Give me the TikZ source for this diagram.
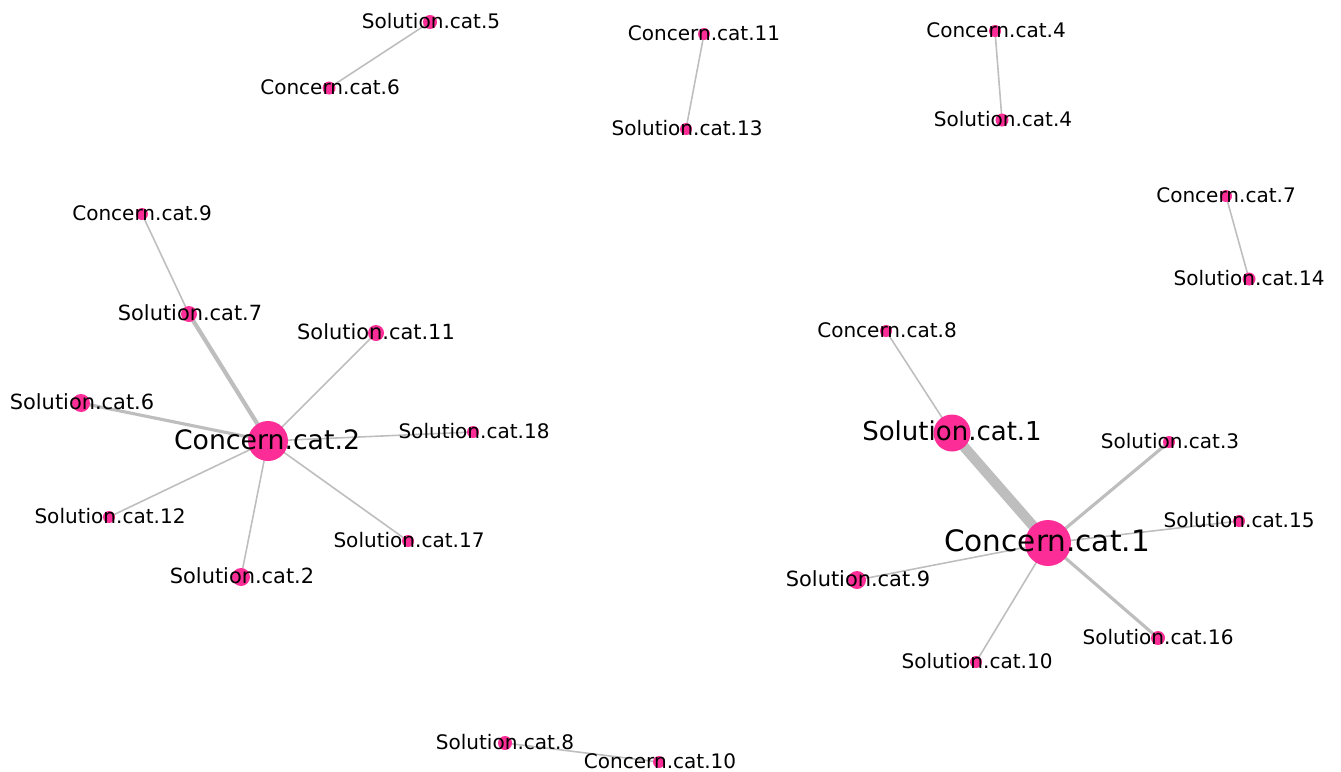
\documentclass[tikz,border=0pt]{standalone}
\usepackage{fontspec}
\setmainfont{DejaVu Sans}
\definecolor{dotpink}{RGB}{252,45,150}
\definecolor{edgegray}{RGB}{190,190,190}
\pgfdeclarelayer{bg}
\pgfsetlayers{bg,main}
\tikzset{
  dot/.style={circle,fill=dotpink,draw=none,inner sep=0pt,minimum size={#1*0.02cm}},
  dot/.default=12,
  lab/.style={inner sep=0pt,font=\fontsize{11.4}{13}\selectfont,text=black},
  mlab/.style={inner sep=0pt,font=\fontsize{11.9}{14}\selectfont,text=black},
  biglab/.style={inner sep=0pt,font=\fontsize{#1}{19}\selectfont,text=black},
  edge/.style={draw=edgegray,line width=0.9pt},
  medge/.style={draw=edgegray,line width=1.8pt},
  tedge/.style={draw=edgegray,line width=2.4pt},
  hedge/.style={draw=edgegray,line width=5.8pt},
}
\begin{document}
\begin{tikzpicture}[x=0.02cm,y=-0.02cm]
\useasboundingbox (0,0) rectangle (1341,771);
% dots
\node[dot=14] (s5) at (430,22) {};
\node[dot=13] (c6) at (329,88) {};
\node[dot=12] (c11) at (704,34) {};
\node[dot=12] (s13) at (686,129) {};
\node[dot=12] (c4) at (995,31) {};
\node[dot=13] (s4) at (1002,120) {};
\node[dot=12] (c7) at (1226,196) {};
\node[dot=13] (s14) at (1249,279) {};
\node[dot=12] (c9) at (142,214) {};
\node[dot=16] (s7) at (189,314) {};
\node[dot=16] (s11) at (376,333) {};
\node[dot=18] (s6) at (81,403) {};
\node[dot=40] (c2) at (268,441) {};
\node[dot=12] (s18) at (473,432) {};
\node[dot=12] (s12) at (109,517) {};
\node[dot=12] (s17) at (408,541) {};
\node[dot=18] (s2) at (241,577) {};
\node[dot=12] (c8) at (886,331) {};
\node[dot=37] (s1) at (952,433) {};
\node[dot=12] (s3) at (1169,442) {};
\node[dot=46] (c1) at (1048,543) {};
\node[dot=12] (s15) at (1239,521) {};
\node[dot=18] (s9) at (857,580) {};
\node[dot=14] (s16) at (1158,638) {};
\node[dot=12] (s10) at (976,662) {};
\node[dot=14] (s8) at (505,743) {};
\node[dot=12] (c10) at (659,762) {};
% edges
\begin{pgfonlayer}{bg}
\draw[edge] (s5.center) -- (c6.center);
\draw[edge] (c11.center) -- (s13.center);
\draw[edge] (c4.center) -- (s4.center);
\draw[edge] (c7.center) -- (s14.center);
\draw[edge] (c9.center) -- (s7.center);
\draw[tedge] (s7.center) -- (c2.center);
\draw[edge] (s11.center) -- (c2.center);
\draw[medge] (s6.center) -- (c2.center);
\draw[edge] (s18.center) -- (c2.center);
\draw[edge] (s12.center) -- (c2.center);
\draw[edge] (s17.center) -- (c2.center);
\draw[edge] (s2.center) -- (c2.center);
\draw[edge] (c8.center) -- (s1.center);
\draw[hedge] (s1.center) -- (c1.center);
\draw[medge] (s3.center) -- (c1.center);
\draw[edge] (s15.center) -- (c1.center);
\draw[edge] (s9.center) -- (c1.center);
\draw[medge] (s16.center) -- (c1.center);
\draw[edge] (s10.center) -- (c1.center);
\draw[edge] (s8.center) -- (c10.center);
\end{pgfonlayer}
% labels
\node[lab] (s5l) at (431,21) {Solution.cat.5};
\node[lab] (c6l) at (330,87) {Concern.cat.6};
\node[lab] (c11l) at (704,33) {Concern.cat.11};
\node[lab] (s13l) at (687,128) {Solution.cat.13};
\node[lab] (c4l) at (996,30) {Concern.cat.4};
\node[lab] (s4l) at (1003,119) {Solution.cat.4};
\node[lab] (c7l) at (1226,195) {Concern.cat.7};
\node[lab] (s14l) at (1249,278) {Solution.cat.14};
\node[lab] (c9l) at (142,213) {Concern.cat.9};
\node[mlab] (s7l) at (190,313) {Solution.cat.7};
\node[mlab] (s11l) at (376,332) {Solution.cat.11};
\node[mlab] (s6l) at (82,402) {Solution.cat.6};
\node[biglab=15.2] (c2l) at (267,440) {Concern.cat.2};
\node[lab] (s18l) at (474,431) {Solution.cat.18};
\node[lab] (s12l) at (110,516) {Solution.cat.12};
\node[lab] (s17l) at (409,540) {Solution.cat.17};
\node[mlab] (s2l) at (242,576) {Solution.cat.2};
\node[lab] (c8l) at (887,330) {Concern.cat.8};
\node[biglab=14.8] (s1l) at (952,431) {Solution.cat.1};
\node[lab] (s3l) at (1170,441) {Solution.cat.3};
\node[biglab=16.8] (c1l) at (1047,541) {Concern.cat.1};
\node[lab] (s15l) at (1239,520) {Solution.cat.15};
\node[mlab] (s9l) at (858,579) {Solution.cat.9};
\node[lab] (s16l) at (1158,637) {Solution.cat.16};
\node[lab] (s10l) at (977,661) {Solution.cat.10};
\node[lab] (s8l) at (505,742) {Solution.cat.8};
\node[lab] (c10l) at (660,761) {Concern.cat.10};
\end{tikzpicture}
\end{document}
